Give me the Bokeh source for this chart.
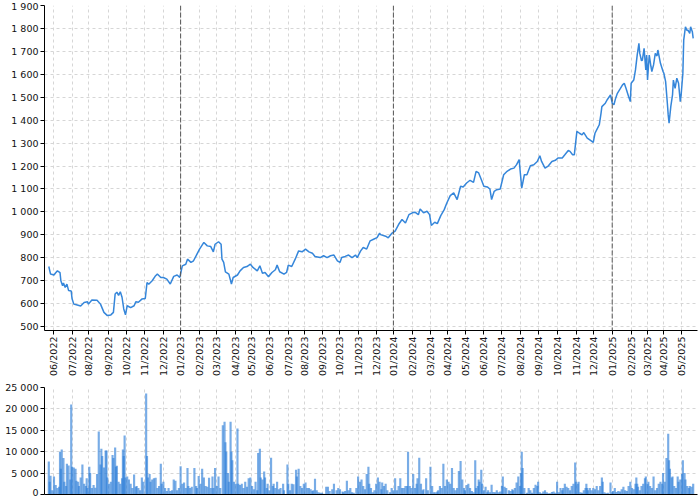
import math
from bokeh.plotting import figure
from bokeh.models import FixedTicker, Span, Range1d
from bokeh.layouts import column
from bokeh.embed import file_html
from bokeh.resources import INLINE

# ---- data (trading-day index -> value) ----
month_labels = ["06/2022", "07/2022", "08/2022", "09/2022", "10/2022", "11/2022", "12/2022",
                "01/2023", "02/2023", "03/2023", "04/2023", "05/2023", "06/2023", "07/2023",
                "08/2023", "09/2023", "10/2023", "11/2023", "12/2023", "01/2024", "02/2024",
                "03/2024", "04/2024", "05/2024", "06/2024", "07/2024", "08/2024", "09/2024",
                "10/2024", "11/2024", "12/2024", "01/2025", "02/2025", "03/2025", "04/2025",
                "05/2025"]
month_day = [5, 28, 46, 69, 90, 111, 133, 153, 175, 195, 217, 235, 256, 278, 297, 318, 338,
             360, 380, 400, 422, 443, 463, 484, 505, 525, 547, 569, 590, 612, 632, 654, 676,
             695, 714, 734]

price_day = [0, 2, 6, 8, 10, 13, 14, 16, 17, 19, 21, 23, 26, 27, 29, 33, 37, 41, 45, 46, 50, 56,
             60, 64, 68, 72, 75, 77, 79, 81, 83, 85, 87, 89, 91, 95, 99, 101, 104, 108, 112, 114,
             116, 120, 124, 126, 130, 133, 137, 141, 145, 149, 152, 155, 159, 161, 165, 168, 172,
             175, 180, 184, 188, 191, 193, 197, 200, 201, 203, 205, 209, 212, 214, 219, 222, 226,
             230, 234, 237, 242, 245, 248, 251, 255, 259, 263, 265, 268, 273, 276, 278, 282, 286,
             290, 294, 298, 302, 306, 309, 315, 319, 323, 327, 331, 335, 338, 340, 344, 348, 352,
             356, 358, 362, 365, 369, 373, 377, 381, 384, 385, 391, 394, 398, 402, 406, 410, 414,
             418, 422, 425, 429, 431, 435, 439, 442, 444, 448, 451, 455, 459, 462, 466, 470, 474,
             478, 481, 485, 489, 493, 496, 499, 502, 505, 509, 512, 514, 517, 520, 524, 528, 532,
             536, 540, 543, 546, 547, 549, 552, 555, 559, 563, 567, 570, 572, 576, 580, 584, 588,
             591, 596, 599, 603, 605, 608, 610, 613, 616, 619, 621, 625, 628, 632, 634, 637, 639,
             641, 642, 646, 648, 652, 654, 656, 658, 660, 663, 666, 668, 670, 673, 675, 676, 679,
             681, 683, 685, 686, 688, 689, 691, 693, 694, 695, 697, 699, 700, 702, 704, 706, 707,
             710, 713, 714, 716, 718, 719, 720, 722, 724, 725, 727, 729, 731, 733, 734, 736, 737,
             739, 741, 742, 744, 745, 747, 748]
price_val = [762, 729, 725, 735, 743, 735, 700, 678, 690, 671, 685, 657, 655, 621, 598, 594, 590,
             605, 608, 598, 616, 615, 598, 562, 548, 551, 562, 642, 650, 636, 652, 628, 577, 551,
             591, 583, 591, 608, 606, 620, 623, 692, 685, 700, 722, 729, 714, 714, 707, 686, 719,
             725, 714, 765, 772, 794, 780, 787, 816, 838, 867, 852, 849, 826, 859, 870, 859, 794,
             780, 739, 729, 686, 714, 725, 743, 758, 762, 772, 758, 743, 765, 733, 736, 717, 736,
             748, 768, 739, 729, 736, 768, 762, 794, 830, 826, 838, 826, 820, 806, 801, 809, 801,
             809, 812, 787, 780, 801, 806, 812, 801, 812, 801, 830, 845, 838, 874, 881, 888, 907,
             901, 894, 887, 906, 916, 945, 967, 952, 988, 996, 999, 988, 1013, 996, 1003, 988, 941,
             955, 949, 984, 1010, 1039, 1071, 1083, 1054, 1112, 1109, 1126, 1138, 1129, 1177, 1170,
             1141, 1112, 1109, 1100, 1054, 1090, 1097, 1100, 1162, 1177, 1187, 1191, 1206, 1228,
             1184, 1104, 1162, 1162, 1201, 1206, 1220, 1245, 1220, 1191, 1201, 1220, 1225, 1235,
             1235, 1249, 1268, 1264, 1249, 1249, 1351, 1343, 1336, 1346, 1322, 1314, 1303, 1343,
             1365, 1380, 1430, 1459, 1474, 1488, 1510, 1474, 1467, 1496, 1517, 1535, 1554, 1561,
             1539, 1503, 1481, 1561, 1575, 1619, 1684, 1735, 1691, 1659, 1662, 1713, 1619, 1684,
             1575, 1684, 1633, 1612, 1641, 1691, 1680, 1706, 1648, 1612, 1604, 1568, 1474, 1423,
             1387, 1459, 1510, 1575, 1539, 1583, 1561, 1481, 1510, 1604, 1749, 1807, 1790, 1793,
             1778, 1807, 1786, 1757]

vol_day = [0, 1, 2, 4, 6, 8, 10, 12, 13, 14, 15, 17, 18, 20, 21, 23, 25, 26, 27, 29, 31, 32, 34,
           35, 37, 39, 41, 43, 44, 45, 47, 48, 50, 52, 54, 56, 58, 60, 61, 62, 64, 66, 67, 68, 70,
           72, 74, 75, 77, 78, 79, 81, 83, 85, 86, 87, 88, 89, 91, 93, 95, 97, 99, 101, 102, 104,
           106, 108, 110, 113, 114, 115, 117, 118, 120, 122, 124, 126, 128, 130, 131, 133, 135,
           137, 139, 141, 143, 145, 147, 149, 151, 153, 155, 157, 159, 161, 162, 164, 166, 169,
           171, 172, 174, 176, 178, 180, 182, 184, 186, 188, 190, 191, 193, 195, 197, 199, 202,
           204, 205, 206, 208, 209, 211, 212, 213, 215, 217, 219, 220, 222,
           224, 226, 228, 230, 232, 234, 236, 238, 240, 242, 243, 245, 246, 248, 250, 251, 253,
           254, 256, 258, 260, 261, 263, 265, 267, 269, 272, 273, 277, 278, 280, 282, 284, 287,
           288, 290, 292, 294, 296, 298, 300, 302, 304, 306, 307, 309, 311, 313, 315, 317, 319,
           322, 324, 326, 329, 331, 334, 336, 338, 341, 342, 344, 346, 348, 350, 352, 354, 357,
           359, 361, 363, 365, 367, 369, 371, 372, 374, 376, 378, 380, 382, 384, 386, 387, 389,
           391, 393, 396, 398, 400, 402, 404, 406, 408, 410, 412, 414, 416, 417, 419, 421, 423,
           425, 427, 428, 430, 432, 434, 435, 438, 440, 443, 445, 447, 449, 451, 452, 454, 456,
           458, 460, 462, 464, 466, 468, 470, 472, 474, 476, 478, 480, 482, 483, 485, 487, 489,
           491, 493, 495, 496, 498, 499, 500, 502, 503, 505, 507, 509, 510, 512, 514, 516, 518,
           520, 522, 524, 526, 527, 529, 531, 534, 536, 538, 539, 541, 543, 545, 547, 548, 549,
           550, 552, 555, 557, 559, 561, 563, 565, 567, 568, 570, 572, 574, 576, 578, 580, 582,
           584, 586, 588, 590, 592, 594, 596, 597, 599, 601, 603, 605, 607, 609, 611, 612, 614,
           615, 617, 619, 621, 623, 624, 625, 626, 628, 630, 632, 634, 636, 638, 640, 642, 643,
           645, 647, 649, 652, 654, 655, 657, 659, 661, 663, 665, 667, 669, 671, 673, 675, 677,
           679, 681, 682, 683, 684, 686, 688, 690, 692, 693, 695, 696, 698, 700, 702, 704, 706,
           708, 710, 712, 713, 715, 717, 719, 720, 721, 723, 724, 726, 728, 730, 731, 733, 735,
           736, 738, 739, 741, 743, 744, 746, 748]
vol_val = [7700, 3000, 4400, 1000, 4200, 2200, 1500, 1800, 10000, 6000, 10500, 8500, 3000, 2000,
           7200, 6800, 3500, 21000, 6500, 6300, 6000, 3200, 3000, 2000, 4000, 7000, 2500, 2000,
           3800, 1500, 6500, 5000, 1500, 2200, 1600, 4800, 14700, 7000, 10700, 9000, 6300, 10300,
           10300, 4000, 2500, 3000, 9200, 8500, 11000, 6500, 6700, 3000, 2500, 3800, 10500, 9000,
           13800, 4000, 4200, 3500, 2500, 1500, 4700, 1800, 2000, 1500, 1000, 4000, 3000, 23600,
           9000, 4000, 4800, 3000, 3500, 3800, 3900, 1500, 2000, 7200, 2500, 3000, 1500, 800,
           1500, 800, 1000, 3500, 3200, 1000, 1500, 6600, 2500, 2800, 1500, 6200, 2000, 1500,
           1800, 6200, 2000, 1500, 4300, 2500, 6000, 4000, 2000, 1800, 3900, 1500, 4200, 1500,
           6200, 2000, 4200, 1500, 16200, 17000, 12200, 10000, 5000, 3000, 17000, 10000, 8000,
           3000, 2500, 15400, 2500, 2200,
           2500, 1500, 3000, 1800, 3800, 4000, 2000, 1200, 3000, 1000, 9700, 10700, 4000, 3500,
           5400, 4000, 1500, 2500, 1000, 8600, 2000, 2500, 1500, 3000, 1200, 1500, 2500, 1000,
           7000, 2500, 1000, 2500, 2400, 5800, 4200, 6000, 2000, 1500, 2500, 2800, 1500, 1500,
           1200, 800, 1000, 3700, 1000, 500, 400, 400, 200, 1800, 1800, 800, 1200, 2500, 1000,
           1500, 1200, 700, 500, 800, 3200, 1000, 1500, 500, 400, 1500, 4200, 3000, 3500, 2000,
           1200, 4800, 6500, 2500, 1500, 500, 1000, 2500, 4000, 3000, 1200, 2800, 2000, 2500,
           1000, 500, 1500, 1000, 3800, 1000, 2000, 3800, 1500, 1500, 2000, 2000, 10000, 2000,
           1500, 4800, 1500, 2500, 3800, 8600, 2500, 1000, 1200, 3800, 1000, 6500, 2000, 500, 500,
           700, 1000, 2000, 1500, 7200, 2000, 3500, 3000, 2500, 6200, 1500, 1000, 1500, 5500,
           7800, 3500, 1500, 1000, 2200, 2500, 1500,
           800, 500, 8000, 1500, 2000, 3500, 3000, 5800, 2500, 1000, 1800, 500, 1000, 500, 2300,
           600, 500, 1000, 500, 700, 2000, 4200, 1800, 1500, 1000, 800, 1200, 1000, 1500, 2800,
           4200, 2000, 5000, 10000, 6200, 1500, 400, 1500, 1000, 400, 1500, 2300, 2000, 3000, 500,
           300, 700, 1000, 500, 300, 300, 600, 700, 400, 3000, 500, 1500, 1000, 1500, 2500, 1800,
           1500, 1000, 2000, 2500, 7500, 3000, 2500, 3000, 500, 400, 1000, 1500, 2500, 1500, 1000,
           1500, 1000, 1500, 1200, 2000, 1000, 2000, 4000, 3000, 500, 300, 400, 2800, 500, 800,
           1500, 600, 800, 700, 1200, 1800, 1000, 800, 2000, 3000, 1500, 1200, 2500, 4000, 2500,
           1800, 1000, 2000, 2500, 3800, 4200, 2500, 3000, 2000, 1500, 4200, 1000, 1500, 2500,
           3000, 2500, 5000, 3000, 8500, 14200, 8000, 6000, 4000, 4200, 2000, 1500, 4200, 3000,
           3500, 4800, 8000, 5000, 3500, 2000, 1500, 2000, 1800, 2500]

price_ticks = list(range(500, 1901, 100))
vol_ticks = list(range(0, 25001, 5000))
year_labels = [lab for lab in month_labels if lab.startswith("01/")]


def spaced(v):
    return f"{v:,}".replace(",", " ")


FONT = "DejaVu Sans"
FSIZE = "9.5px"
GRID = "#d6d6d6"
BLUE = "#3586da"

xr = Range1d(-5, 753)


def style(fig, yticks, xticks):
    fig.outline_line_color = None
    fig.xaxis.ticker = FixedTicker(ticks=xticks)
    fig.xgrid.ticker = FixedTicker(ticks=month_day)
    fig.yaxis.ticker = FixedTicker(ticks=yticks)
    fig.yaxis.major_label_overrides = {t: spaced(t) for t in yticks}
    for ax in (fig.xaxis[0], fig.yaxis[0]):
        ax.axis_line_color = "black"
        ax.major_tick_line_color = "black"
        ax.minor_tick_line_color = None
        ax.major_tick_in = 0
        ax.major_tick_out = 4
        ax.major_label_standoff = 2
        ax.major_label_text_font = FONT
        ax.major_label_text_font_size = FSIZE
        ax.major_label_text_color = "#111111"
    for g in (fig.xgrid[0], fig.ygrid[0]):
        g.grid_line_color = GRID
        g.grid_line_dash = "3 3"
        g.grid_line_width = 1


p = figure(width=700, height=378, x_range=xr, y_range=Range1d(483, 1900),
           output_backend="svg", toolbar_location=None,
           min_border_left=44, min_border_right=3, min_border_top=5, min_border_bottom=0)
style(p, price_ticks, month_day)
p.xaxis.major_label_overrides = {d: lab for d, lab in zip(month_day, month_labels)}
p.xaxis.major_label_orientation = math.pi / 2

for d, lab in zip(month_day, month_labels):
    if lab in year_labels:
        p.add_layout(Span(location=d, dimension="height", line_color="#555555",
                          line_dash="5 2", line_width=1))

p.line(price_day, price_val, line_color=BLUE, line_width=1.5)

v = figure(width=700, height=119, x_range=xr, y_range=Range1d(0, 25000),
           output_backend="svg", toolbar_location=None,
           min_border_left=44, min_border_right=3, min_border_top=9, min_border_bottom=3)
style(v, vol_ticks, [])
v.xaxis.major_tick_out = 0
v.xaxis.major_label_standoff = 0

v.vbar(x=vol_day, top=vol_val, bottom=0, width=2.5, fill_color="#2f80d8",
       fill_alpha=0.65, line_color=None)

layout = column(p, v)
open("out.html", "w").write(file_html(layout, INLINE))
